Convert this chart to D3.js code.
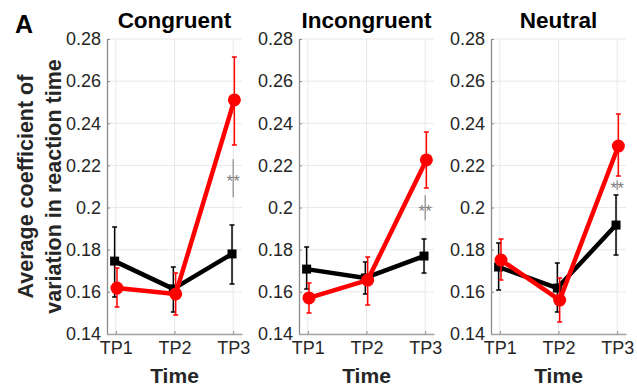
<!DOCTYPE html>
<html>
<head>
<meta charset="utf-8">
<script src="https://cdn.jsdelivr.net/npm/d3@7"></script>
<style>
  body { margin: 0; background: #fff; }
  text { font-family: "Liberation Sans", Arial, Helvetica, sans-serif; }
</style>
</head>
<body>
<div class="chart"></div>
<script>
var timepoints = ["TP1", "TP2", "TP3"];
var conditions = ["Congruent", "Incongruent", "Neutral"];
var yTicks = [0.14, 0.16, 0.18, 0.2, 0.22, 0.24, 0.26, 0.28];

// black series (squares)
var blackMean  = [[0.1746, 0.1614, 0.1780], [0.1708, 0.1666, 0.1770], [0.1718, 0.1618, 0.1917]];
var blackLower = [[0.1576, 0.1504, 0.1637], [0.1614, 0.1590, 0.1690], [0.1609, 0.1504, 0.1775]];
var blackUpper = [[0.1908, 0.1718, 0.1917], [0.1813, 0.1742, 0.1851], [0.1832, 0.1737, 0.2060]];

// red series (circles)
var redMean  = [[0.1618, 0.1590, 0.2511], [0.1571, 0.1656, 0.2226], [0.1751, 0.1561, 0.2292]];
var redLower = [[0.1528, 0.1490, 0.2297], [0.1500, 0.1538, 0.2093], [0.1656, 0.1457, 0.2150]];
var redUpper = [[0.1713, 0.1690, 0.2715], [0.1642, 0.1765, 0.2359], [0.1851, 0.1666, 0.2444]];

// significance marks at TP3: star position and bar extent
var sigLabel = ["**", "**", "**"];
var sigY     = [0.2139, 0.1997, 0.2106];
var sigLo    = [0.2049, 0.1940, 0.2083];
var sigHi    = [0.2229, 0.2059, 0.2130];

var svgWidth = 637, svgHeight = 391;
var panelLeft = [107, 299, 491];
var panelW = 135, plotTop = 39, plotBottom = 334;

var svg = d3.select(".chart").append("svg")
  .attr("width", svgWidth)
  .attr("height", svgHeight);

var y = d3.scaleLinear().domain([0.14, 0.28]).range([plotBottom, plotTop]);

var series = [
  { mean: blackMean, lo: blackLower, hi: blackUpper, color: "#000000", dx: -0.02, shape: "square" },
  { mean: redMean, lo: redLower, hi: redUpper, color: "#ff0000", dx: 0.02, shape: "circle" }
];

conditions.forEach(function(cond, p) {
  var x = d3.scaleLinear().domain([0.85, 3.15]).range([panelLeft[p], panelLeft[p] + panelW]);
  var g = svg.append("g");

  // grid
  g.selectAll(".gy").data(yTicks).enter().append("line")
    .attr("x1", x(0.85)).attr("x2", x(3.15))
    .attr("y1", function(d) { return y(d); }).attr("y2", function(d) { return y(d); })
    .attr("stroke", "#e8e8e8").attr("stroke-width", 1);
  g.selectAll(".gx").data(timepoints).enter().append("line")
    .attr("x1", function(d, i) { return x(i + 1); }).attr("x2", function(d, i) { return x(i + 1); })
    .attr("y1", plotTop).attr("y2", plotBottom)
    .attr("stroke", "#e8e8e8").attr("stroke-width", 1);

  // axes
  var leftAxis = d3.axisLeft(y).tickValues(yTicks).tickSizeInner(-3).tickSizeOuter(0).tickPadding(6)
    .tickFormat(function(d) { return d3.format(".2f")(d).replace(/0$/, ""); });
  var ay = g.append("g").attr("transform", "translate(" + x(0.85) + ",0)").call(leftAxis);
  ay.select(".domain").attr("stroke", "#8c8c8c").attr("stroke-width", 1.3);
  ay.selectAll(".tick line").attr("stroke", "#8c8c8c");
  ay.selectAll("text").attr("font-size", "18px").attr("fill", "#262626");

  var bottomAxis = d3.axisBottom(x).tickValues([1, 2, 3]).tickSizeInner(-3).tickSizeOuter(0).tickPadding(7)
    .tickFormat(function(d) { return timepoints[d - 1]; });
  var ax = g.append("g").attr("transform", "translate(0," + plotBottom + ")").call(bottomAxis);
  ax.select(".domain").attr("stroke", "#a6a6a6").attr("stroke-width", 1.3);
  ax.selectAll(".tick line").attr("stroke", "#8c8c8c");
  ax.selectAll("text").attr("font-size", "18px").attr("fill", "#262626");

  // significance
  g.append("line")
    .attr("x1", x(3)).attr("x2", x(3))
    .attr("y1", y(sigLo[p])).attr("y2", y(sigHi[p]))
    .attr("stroke", "#8c8c8c").attr("stroke-width", 1.2);
  g.append("text")
    .attr("x", x(3)).attr("y", y(sigY[p]) + 9)
    .attr("text-anchor", "middle")
    .attr("font-size", "17px").attr("fill", "#7f7f7f")
    .text(sigLabel[p]);

  series.forEach(function(s) {
    var pts = timepoints.map(function(t, i) {
      return { xi: i + 1 + s.dx, m: s.mean[p][i], lo: s.lo[p][i], hi: s.hi[p][i] };
    });
    var sg = g.append("g");
    sg.selectAll(".eb").data(pts).enter().append("path")
      .attr("d", function(d) {
        var cx = x(d.xi), c = 2.5;
        return "M" + cx + "," + y(d.lo) + "V" + y(d.hi) +
          "M" + (cx - c) + "," + y(d.hi) + "H" + (cx + c) +
          "M" + (cx - c) + "," + y(d.lo) + "H" + (cx + c);
      })
      .attr("stroke", s.color).attr("stroke-width", 1.5).attr("fill", "none");
    sg.append("path").datum(pts)
      .attr("d", d3.line().x(function(d) { return x(d.xi); }).y(function(d) { return y(d.m); }))
      .attr("stroke", s.color).attr("stroke-width", 4.5).attr("fill", "none")
      .attr("stroke-linejoin", "round");
    if (s.shape === "square") {
      sg.selectAll(".mk").data(pts).enter().append("rect")
        .attr("x", function(d) { return x(d.xi) - 4.5; })
        .attr("y", function(d) { return y(d.m) - 4.5; })
        .attr("width", 9).attr("height", 9)
        .attr("fill", s.color);
    } else {
      sg.selectAll(".mk").data(pts).enter().append("circle")
        .attr("cx", function(d) { return x(d.xi); })
        .attr("cy", function(d) { return y(d.m); })
        .attr("r", 6.5)
        .attr("fill", s.color);
    }
  });

  // title and x label
  g.append("text")
    .attr("x", panelLeft[p] + panelW / 2).attr("y", 28)
    .attr("text-anchor", "middle")
    .attr("font-size", "22.5px").attr("font-weight", "bold").attr("fill", "#000")
    .text(cond);
  g.append("text")
    .attr("x", panelLeft[p] + panelW / 2).attr("y", 383)
    .attr("text-anchor", "middle")
    .attr("font-size", "21px").attr("font-weight", "bold").attr("fill", "#262626")
    .text("Time");
});

// y label
var yl = svg.append("text")
  .attr("transform", "translate(0," + ((plotTop + plotBottom) / 2) + ") rotate(-90)")
  .attr("text-anchor", "middle")
  .attr("font-size", "21.5px").attr("font-weight", "bold").attr("fill", "#262626");
yl.append("tspan").attr("x", 0).attr("y", 33).text("Average coefficient of");
yl.append("tspan").attr("x", 0).attr("y", 61).text("variation in reaction time");

// panel letter
svg.append("text")
  .attr("x", 15).attr("y", 33)
  .attr("font-size", "25px").attr("font-weight", "bold").attr("fill", "#000")
  .text("A");
</script>
</body>
</html>
